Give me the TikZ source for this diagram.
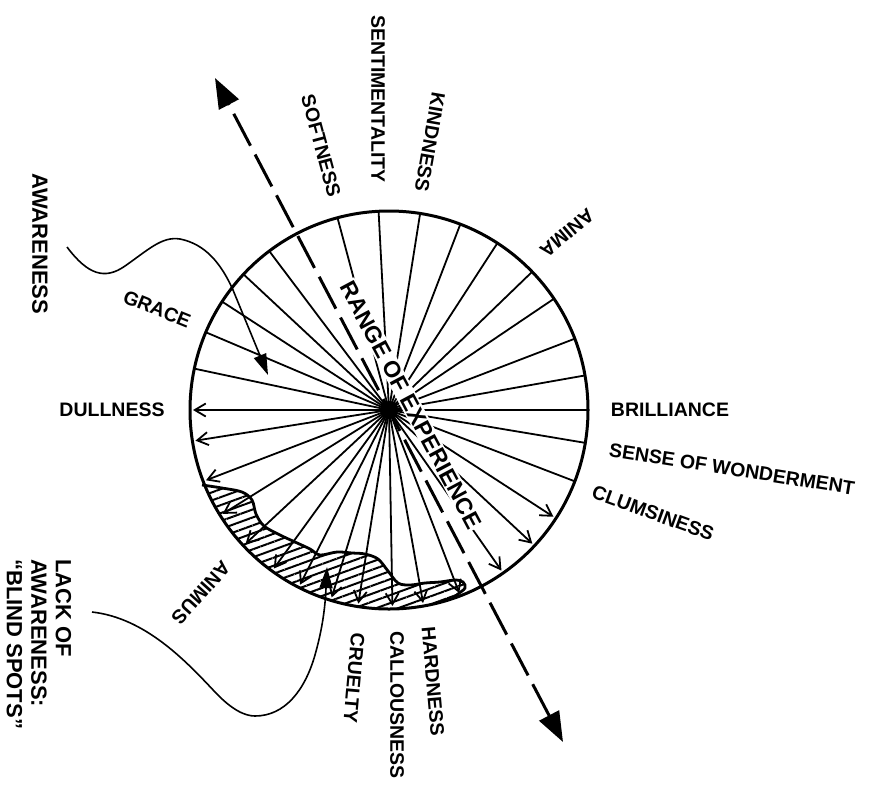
\documentclass[tikz,border=0pt]{standalone}
\usepackage{fontspec}
\setmainfont{Liberation Sans}
\usetikzlibrary{arrows.meta, patterns.meta, calc}
\tikzset{
  spoke/.style     = {line width=1.8pt},
  barbed/.style    = {spoke, -{Straight Barb[length=11pt, width=13pt]}},
  rim/.style       = {circle, draw, line width=3pt, minimum size=398pt, inner sep=0pt},
  lab/.style       = {font=\fontsize{19.5}{22}\selectfont\bfseries, inner sep=0pt},
  biglab/.style    = {font=\fontsize{22}{24.5}\selectfont\bfseries, inner sep=0pt},
  rangelab/.style  = {font=\fontsize{23}{25}\selectfont\bfseries, fill=white, inner sep=1.5pt},
  rangeline/.style = {line width=3pt, dash pattern=on 36pt off 10pt,
                      {Triangle[length=30pt, width=22pt]}-{Triangle[length=30pt, width=22pt]}},
  pointer/.style   = {line width=1.6pt, -{Triangle[length=21pt, width=13pt]}},
  blindline/.style = {line width=2.8pt},
  hatch/.style     = {pattern={Lines[angle=20, distance=7.5pt, line width=2pt]}},
}
\newcommand{\blindedge}{plot[smooth, tension=0.55] coordinates {(202,485) (222,488) (242,492)
  (252,500) (256,514) (264,526) (280,535) (295,542) (310,549) (320,555) (337,552) (352,553)
  (365,554) (378,559) (388,571) (398,583) (410,585) (425,583) (440,582) (455,580) (463,582)
  (465,588) (458,594) (453,598)}}

\begin{document}
\begin{tikzpicture}[x=1pt, y=-1pt]
\useasboundingbox (0,0) rectangle (869,785);

% Blind spots: hatched patch along the lower rim
\fill[hatch] \blindedge arc[start angle=71, end angle=158, radius=199] -- cycle;

% Spokes from the centre
\coordinate (c) at (389,410);
\foreach \a in {0,-10,-21,-34,-44,-57,-69,-81,-93,-105,-127,-137,-147,-157,-168,9.5,21}
  \draw[spoke] (c) -- ++(\a:199);
\foreach \a in {33,43,55,69,80,89,99,107,117,126,137,148,159,171,180}
  \draw[barbed] (c) -- ++(\a:196);

% Rim and edge of the blind spots
\node (rim) [rim] at (c) {};
\draw[blindline] \blindedge;

% Range of experience
\node (range) [rangelab, rotate=-62] at (411,405) {RANGE OF EXPERIENCE};
\fill (c) circle (9);
\coordinate (rtop) at (215,78);
\coordinate (rbot) at (563,742);
\draw[rangeline] (rbot) -- (rtop);

% Qualities round the rim
\node (sentim)  [lab, rotate=-90]  at (378,99)  {SENTIMENTALITY};
\node (soft)    [lab, rotate=-75]  at (321,146) {SOFTNESS};
\node (kind)    [lab, rotate=-100] at (430,142) {KINDNESS};
\node (anima)   [lab, rotate=-140] at (567,233) {ANIMA};
\node (grace)   [lab, rotate=-22]  at (157,309) {GRACE};
\node (dull)    [lab]              at (112,410) {DULLNESS};
\node (brill)   [lab]              at (670,410) {BRILLIANCE};
\node (wonder)  [lab, rotate=-9]   at (732,469) {SENSE OF WONDERMENT};
\node (clumsy)  [lab, rotate=-20]  at (653,513) {CLUMSINESS};
\node (animus)  [lab, rotate=-132] at (201,593) {ANIMUS};
\node (cruel)   [lab, rotate=-95]  at (354,678) {CRUELTY};
\node (callous) [lab, rotate=-90]  at (397,705) {CALLOUSNESS};
\node (hard)    [lab, rotate=-85]  at (433,681) {HARDNESS};

% Awareness and its lack
\node (aware) [biglab, rotate=-90] at (40,244) {AWARENESS};
\node (lack)  [biglab, rotate=-90, anchor=west, align=left] at (39,559)
  {LACK OF\\AWARENESS:\\“BLIND SPOTS”};

\coordinate (awstart) at (67,247);
\coordinate (awtip) at (268,375);
\draw[pointer] (awstart) .. controls (88,275) and (105,280) .. (125,266)
  .. controls (148,250) and (162,236) .. (180,239)
  .. controls (205,244) and (221,263) .. (233,290) -- (awtip);

\coordinate (blstart) at (92,612);
\coordinate (bltip) at (327,567);
\draw[pointer] (blstart) .. controls (145,618) and (185,660) .. (215,692)
  .. controls (232,710) and (245,716) .. (255,716)
  .. controls (285,716) and (305,690) .. (315,655)
  .. controls (322,630) and (325,610) .. (bltip);

\end{tikzpicture}
\end{document}
